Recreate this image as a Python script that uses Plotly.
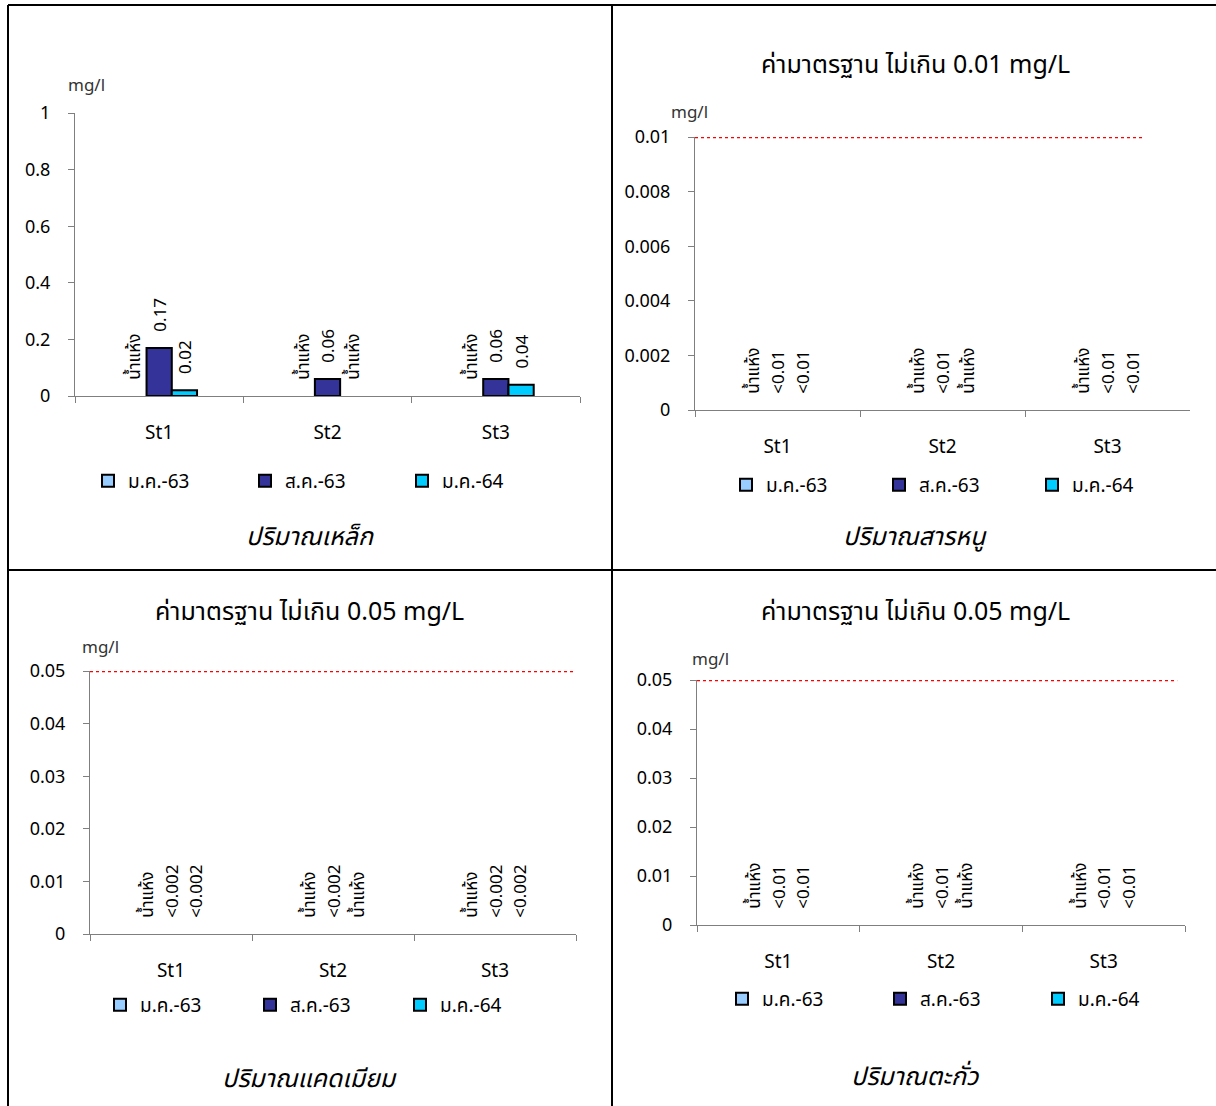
import plotly.graph_objects as go

# ---------------- data ----------------
stations = ["St1", "St2", "St3"]
series_names = ["ม.ค.-63", "ส.ค.-63", "ม.ค.-64"]
series_colors = ["#99CCFF", "#333399", "#00CCFF"]
DRY = "น้ำแห้ง"

# Iron (mg/l)
iron_jan63 = [None, None, None]
iron_aug63 = [0.17, 0.06, 0.06]
iron_jan64 = [0.02, None, 0.04]
iron_jan63_lbl = [DRY, DRY, DRY]
iron_aug63_lbl = ["0.17", "0.06", "0.06"]
iron_jan64_lbl = ["0.02", DRY, "0.04"]

# Arsenic (mg/l) - below detection limit
as_jan63_lbl = [DRY, DRY, DRY]
as_aug63_lbl = ["<0.01", "<0.01", "<0.01"]
as_jan64_lbl = ["<0.01", DRY, "<0.01"]

# Cadmium (mg/l)
cd_jan63_lbl = [DRY, DRY, DRY]
cd_aug63_lbl = ["<0.002", "<0.002", "<0.002"]
cd_jan64_lbl = ["<0.002", DRY, "<0.002"]

# Lead (mg/l)
pb_jan63_lbl = [DRY, DRY, DRY]
pb_aug63_lbl = ["<0.01", "<0.01", "<0.01"]
pb_jan64_lbl = ["<0.01", DRY, "<0.01"]

standard_as = 0.01
standard_cd = 0.05
standard_pb = 0.05

titles_top = [None, "ค่ามาตรฐาน ไม่เกิน 0.01 mg/L",
              "ค่ามาตรฐาน ไม่เกิน 0.05 mg/L", "ค่ามาตรฐาน ไม่เกิน 0.05 mg/L"]
titles_bottom = ["ปริมาณเหล็ก", "ปริมาณสารหนู", "ปริมาณแคดเมียม", "ปริมาณตะกั่ว"]
unit_label = "mg/l"

# ---------------- layout helpers ----------------
W, H = 1216, 1106
FONT = "Noto Sans, 'Noto Sans Thai', sans-serif"
PAD = "\u00a0\u00a0\u00a0"


def px(x):
    return x / W


def py(y):
    return 1 - y / H


def nums(vals):
    return [0 if v is None else v for v in vals]


def widths(vals):
    return [2 if (v is not None and v > 0) else 0 for v in vals]


fig = go.Figure()

panels = [
    dict(vals=[iron_jan63, iron_aug63, iron_jan64],
         lbls=[iron_jan63_lbl, iron_aug63_lbl, iron_jan64_lbl]),
    dict(vals=[[None] * 3] * 3,
         lbls=[as_jan63_lbl, as_aug63_lbl, as_jan64_lbl]),
    dict(vals=[[None] * 3] * 3,
         lbls=[cd_jan63_lbl, cd_aug63_lbl, cd_jan64_lbl]),
    dict(vals=[[None] * 3] * 3,
         lbls=[pb_jan63_lbl, pb_aug63_lbl, pb_jan64_lbl]),
]

for pi, p in enumerate(panels):
    ax = "" if pi == 0 else str(pi + 1)
    leg = "legend" if pi == 0 else f"legend{pi + 1}"
    for si in range(3):
        vals = p["vals"][si]
        lbls = p["lbls"][si]
        fig.add_trace(go.Bar(
            x=stations, y=nums(vals),
            name=series_names[si], offsetgroup=str(si),
            text=[PAD + t for t in lbls],
            textposition="outside", textangle=-90,
            constraintext="none", cliponaxis=False,
            textfont=dict(family=FONT, size=17, color="#000"),
            marker=dict(color=series_colors[si],
                        line=dict(color="#000", width=widths(vals))),
            xaxis="x" + ax, yaxis="y" + ax, legend=leg,
            showlegend=False, hoverinfo="skip",
        ))
        # legend entry (shares the slot via offsetgroup, draws nothing)
        fig.add_trace(go.Bar(
            x=stations, y=[None, None, None],
            name=series_names[si], offsetgroup=str(si),
            marker=dict(color=series_colors[si], line=dict(color="#000", width=2)),
            xaxis="x" + ax, yaxis="y" + ax, legend=leg,
            showlegend=True, hoverinfo="skip",
        ))

geo = [
    # x0, x1, ytop, ybottom, range, dtick
    (75, 580, 113, 396, [0, 1], 0.2),
    (695, 1190, 137, 410, [0, 0.01], 0.002),
    (90, 576, 671, 934, [0, 0.05], 0.01),
    (697, 1185, 680, 925, [0, 0.05], 0.01),
]

layout = dict(
    width=W, height=H, margin=dict(l=0, r=0, t=0, b=0, autoexpand=False),
    paper_bgcolor="white", plot_bgcolor="white",
    barmode="group", bargap=0.55, bargroupgap=0,
    font=dict(family=FONT, size=17, color="#000"),
)

for pi, (x0, x1, yt, yb, rng, dt) in enumerate(geo):
    ax = "" if pi == 0 else str(pi + 1)
    layout["xaxis" + ax] = dict(
        domain=[px(x0), px(x1)], anchor="y" + ax,
        type="category", tickson="boundaries", ticks="outside", ticklen=6,
        tickcolor="#7f7f7f", showline=True, linecolor="#7f7f7f", linewidth=1,
        showgrid=False, zeroline=False, ticklabelstandoff=19,
        tickfont=dict(family=FONT, size=19, color="#000"), fixedrange=True,
    )
    layout["yaxis" + ax] = dict(
        domain=[py(yb), py(yt)], anchor="x" + ax,
        range=rng, dtick=dt, tick0=0, ticks="outside", ticklen=6,
        tickcolor="#7f7f7f", showline=True, linecolor="#7f7f7f", linewidth=1,
        showgrid=False, zeroline=False, ticklabelstandoff=14,
        tickfont=dict(family=FONT, size=18, color="#000"), fixedrange=True,
    )

# (left x, centre y, entry text width)
legend_pos = [(100, 481, 112), (738, 485, 108), (112, 1005, 105), (734, 999, 113)]
for pi, (lx, ly, ew) in enumerate(legend_pos):
    key = "legend" if pi == 0 else f"legend{pi + 1}"
    layout[key] = dict(
        orientation="h", x=px(lx - 12), y=py(ly), xanchor="left", yanchor="middle",
        entrywidth=ew, entrywidthmode="pixels", itemwidth=30,
        font=dict(family=FONT, size=19, color="#000"),
        bgcolor="rgba(0,0,0,0)", traceorder="normal",
        itemclick=False, itemdoubleclick=False,
    )

fig.update_layout(**layout)

# standard lines
for ax, val, xend in [("2", standard_as, 0.907), ("3", standard_cd, 1.0), ("4", standard_pb, 0.984)]:
    fig.add_shape(type="line", xref=f"x{ax} domain", yref=f"y{ax}",
                  x0=0, x1=xend, y0=val, y1=val,
                  line=dict(color="#FF0000", width=2.5, dash="dot"))

# panel titles / units
ann = []
top_pos = [None, (915, 63), (310, 610), (915, 610)]
unit_pos = [(87, 85), (689, 112), (100, 647), (710, 658)]
bottom_pos = [(310, 535), (915, 535), (310, 1077), (915, 1075)]
for pi in range(4):
    if titles_top[pi]:
        tx, ty = top_pos[pi]
        ann.append(dict(text=titles_top[pi], x=px(tx), y=py(ty), xref="paper", yref="paper",
                        showarrow=False, xanchor="center", yanchor="middle",
                        font=dict(family=FONT, size=25, color="#000")))
    ux, uy = unit_pos[pi]
    ann.append(dict(text=unit_label, x=px(ux), y=py(uy), xref="paper", yref="paper",
                    showarrow=False, xanchor="center", yanchor="middle",
                    font=dict(family=FONT, size=17, color="#333")))
    bx, by = bottom_pos[pi]
    ann.append(dict(text="<i>" + titles_bottom[pi] + "</i>", x=px(bx), y=py(by),
                    xref="paper", yref="paper", showarrow=False,
                    xanchor="center", yanchor="middle",
                    font=dict(family=FONT, size=25, color="#000")))
fig.update_layout(annotations=ann)

# frame lines
frame = [
    (8, 5, W, 5),
    (8, 5, 8, H),
    (612, 5, 612, H),
    (8, 570, W, 570),
]
for (a, b, c, d) in frame:
    fig.add_shape(type="line", xref="paper", yref="paper",
                  x0=px(a), y0=py(b), x1=px(c), y1=py(d),
                  line=dict(color="#000", width=2))

fig.write_html("out.html", config={"displayModeBar": False},
               post_script="document.body.style.margin='0';document.body.style.overflow='hidden';")
